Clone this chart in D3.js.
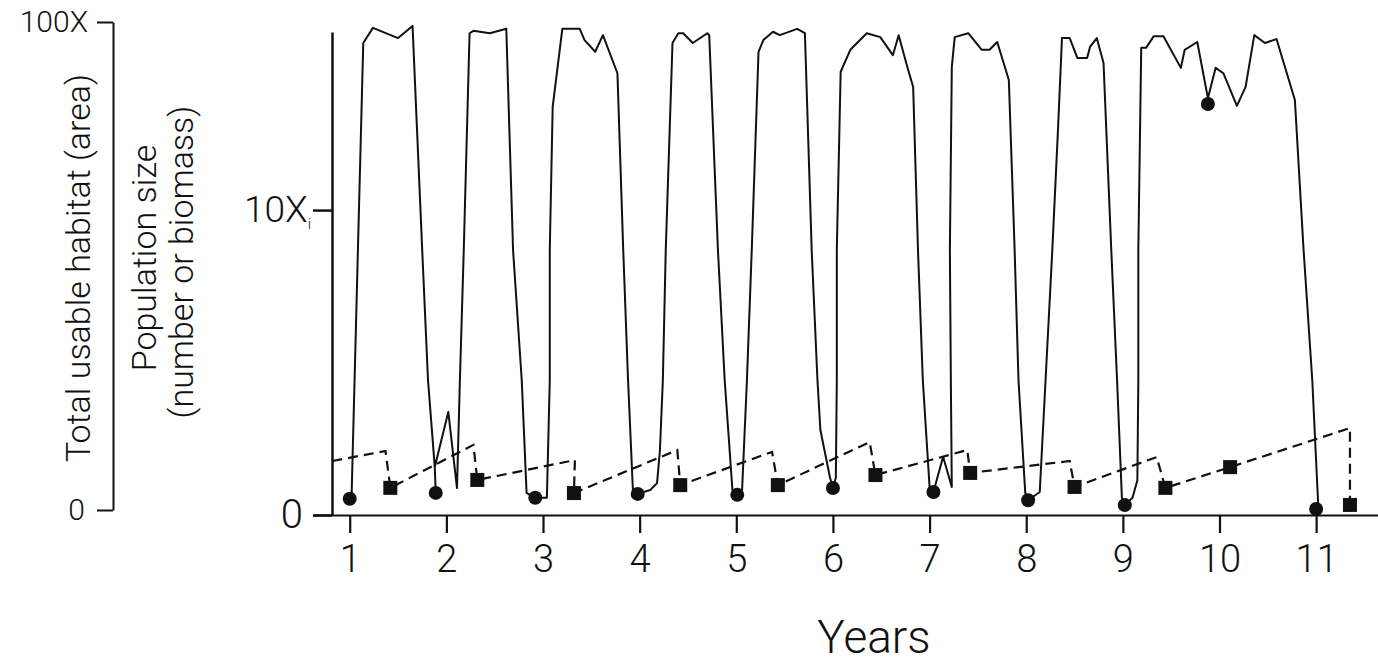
<!DOCTYPE html>
<meta charset="utf-8">
<style>
    body { margin: 0; background: #fff; }
    svg { display: block; }
    text { font-family: Roboto, "Liberation Sans", Arial, sans-serif; font-weight: 300; fill: #111; }
    .axis path, .axis line { stroke: #111; }
</style>
<body>
<svg width="1378" height="663"></svg>
</body>
<script src="https://d3js.org/d3.v7.min.js"></script>
<script>
    // solid line: usable habitat (years, % of 100X)
    const habitatYears = [1.00,1.02,1.14,1.24,1.50,1.65,1.75,1.81,1.88,1.89,
        1.88,2.02,2.11,2.14,2.18,2.24,2.28,2.45,2.62,2.69,
        2.78,2.83,2.92,3.04,3.07,3.07,3.10,3.20,3.38,3.43,
        3.54,3.62,3.77,3.83,3.88,3.93,3.98,4.11,4.18,4.21,
        4.24,4.27,4.34,4.40,4.45,4.55,4.70,4.72,4.81,4.88,
        4.96,5.01,5.06,5.11,5.16,5.23,5.28,5.38,5.45,5.63,
        5.71,5.78,5.84,5.87,5.97,6.00,6.03,6.04,6.04,6.08,
        6.18,6.35,6.49,6.62,6.68,6.77,6.83,6.88,6.93,7.00,
        7.04,7.14,7.23,7.22,7.21,7.23,7.26,7.40,7.54,7.62,
        7.70,7.82,7.88,7.92,7.99,8.02,8.14,8.20,8.27,8.33,
        8.37,8.45,8.53,8.63,8.66,8.73,8.80,8.88,8.94,8.99,
        9.02,9.10,9.15,9.16,9.16,9.19,9.24,9.32,9.42,9.60,
        9.64,9.77,9.88,9.96,10.04,10.18,10.27,10.36,10.47,10.59,
        10.78,10.87,10.96,11.02,11.00];
    const habitatValues = [2.3,3.5,95.7,98.8,96.7,99.2,53.3,26.6,8.8,3.5,
        8.8,20.1,4.5,26.6,53.3,97.7,98.2,97.7,98.6,53.3,
        26.6,3.5,2.5,2.5,26.6,53.3,82.6,98.6,98.6,96.3,
        93.9,97.3,89.5,53.3,26.6,4.1,3.3,4.1,5.5,12.3,
        26.6,53.3,95.7,97.7,97.7,95.7,97.7,97.3,53.3,26.6,
        4.1,3.1,4.1,26.6,53.3,93.9,96.3,98.0,97.3,98.6,
        97.7,53.3,26.6,16.4,6.6,4.5,6.6,26.6,53.3,89.8,
        94.3,97.7,96.9,93.2,97.3,90.8,86.7,53.3,26.6,4.7,
        3.7,10.9,4.7,26.6,53.3,90.8,96.9,97.7,94.3,94.3,
        95.9,88.1,53.3,26.6,3.5,2.0,3.7,26.6,53.3,78.5,
        96.7,96.7,92.6,92.6,94.9,96.7,91.6,53.3,26.6,2.5,
        1.0,2.5,6.1,26.6,53.3,94.7,94.7,97.1,97.1,90.6,
        94.3,95.9,84.4,90.6,89.5,82.8,86.7,97.3,95.7,96.5,
        84.0,53.3,26.6,1.6,0.2];

    // filled circles on the habitat line
    const dotYears = [1.00,1.89,2.92,3.98,5.01,6.00,7.04,8.02,9.02,9.88,11.00];
    const dotValues = [2.3,3.5,2.5,3.3,3.1,4.5,3.7,2.0,1.0,83.2,0.2];

    // dashed line: population size (units of X)
    const popYears = [0.82,1.37,1.42,2.28,2.32,3.33,3.32,4.39,4.42,5.37,5.43,
        6.38,6.44,7.39,7.42,8.45,8.50,9.35,9.44,10.11,11.35,11.35];
    const popValues = [1.77,2.10,0.89,2.30,1.15,1.80,0.72,2.13,0.98,2.07,0.98,
        2.39,1.31,2.13,1.38,1.77,0.92,1.90,0.89,1.57,2.85,0.33];

    // filled squares on the population line
    const squareYears = [1.42,2.32,3.32,4.42,5.43,6.44,7.42,8.50,9.44,10.11,11.35];
    const squareValues = [0.89,1.15,0.72,0.98,0.98,1.31,1.38,0.92,0.89,1.57,0.33];

    const xTicks = [1,2,3,4,5,6,7,8,9,10,11];
    const popTicks = [0, 10];
    const habTicks = [0, 100];

    const svg = d3.select("svg");
    svg.append("rect").attr("width", 1378).attr("height", 663).attr("fill", "#fff");

    const x = d3.scaleLinear().domain([0.62, 11.64]).range([313, 1378]);
    const yPop = d3.scaleLinear().domain([0, 15.84]).range([515, 32]);
    const yHab = d3.scaleLinear().domain([0, 100]).range([510, 22]);

    // x axis
    const gx = svg.append("g")
        .attr("class", "axis")
        .attr("transform", "translate(0,515)")
        .call(d3.axisBottom(x).tickValues(xTicks).tickSize(18).tickSizeOuter(0)
            .tickPadding(12).tickFormat(d3.format("d")));
    gx.selectAll("path, line").attr("stroke-width", 2.2);
    gx.selectAll("text").attr("font-size", 38).attr("fill", "#111");

    // population axis
    const gy = svg.append("g")
        .attr("class", "axis")
        .attr("transform", "translate(332,0)")
        .call(d3.axisLeft(yPop).tickValues(popTicks).tickSize(19).tickSizeOuter(0));
    gy.selectAll("path, line").attr("stroke-width", 2.5);
    gy.selectAll("text")
        .attr("fill", "#111")
        .attr("font-size", d => d === 0 ? 40 : 37)
        .attr("x", d => d === 0 ? -29 : -21)
        .each(function (d) {
            const t = d3.select(this);
            if (d === 0) { t.text("0"); return; }
            t.text("10X");
            t.append("tspan").attr("font-size", 15).attr("dy", "0.45em").text("i");
        });

    // habitat axis
    const gh = svg.append("g")
        .attr("class", "axis")
        .attr("transform", "translate(113,0)")
        .call(d3.axisLeft(yHab).tickValues(habTicks).tickSize(16).tickSizeOuter(0));
    gh.selectAll("path, line").attr("stroke-width", 2);
    gh.selectAll("text")
        .attr("fill", "#111")
        .attr("font-size", d => d === 0 ? 30 : 30)
        .attr("x", d => d === 0 ? -28 : -25)
        .text(d => d === 0 ? "0" : "100X");

    // axis titles
    svg.append("text")
        .attr("transform", "translate(90,268) rotate(-90)")
        .attr("text-anchor", "middle").attr("font-size", 34)
        .text("Total usable habitat (area)");
    svg.append("text")
        .attr("transform", "translate(156,258) rotate(-90)")
        .attr("text-anchor", "middle").attr("font-size", 34)
        .text("Population size");
    svg.append("text")
        .attr("transform", "translate(193,262) rotate(-90)")
        .attr("text-anchor", "middle").attr("font-size", 34)
        .text("(number or biomass)");
    svg.append("text")
        .attr("x", 874).attr("y", 653)
        .attr("text-anchor", "middle").attr("font-size", 46)
        .text("Years");

    // habitat line
    const habitat = habitatYears.map((d, i) => [d, habitatValues[i]]);
    svg.append("path")
        .datum(habitat)
        .attr("fill", "none")
        .attr("stroke", "#111")
        .attr("stroke-width", 2)
        .attr("stroke-linejoin", "round")
        .attr("d", d3.line().x(d => x(d[0])).y(d => yHab(d[1])));

    // population line
    const pop = popYears.map((d, i) => [d, popValues[i]]);
    svg.append("path")
        .datum(pop)
        .attr("fill", "none")
        .attr("stroke", "#111")
        .attr("stroke-width", 2.2)
        .attr("stroke-dasharray", "10,6")
        .attr("d", d3.line().x(d => x(d[0])).y(d => yPop(d[1])));

    svg.append("g")
        .selectAll("circle")
        .data(dotYears)
        .enter().append("circle")
        .attr("cx", d => x(d))
        .attr("cy", (d, i) => yHab(dotValues[i]))
        .attr("r", 7)
        .attr("fill", "#111");

    const sq = 14;
    svg.append("g")
        .selectAll("rect")
        .data(squareYears)
        .enter().append("rect")
        .attr("x", d => x(d) - sq / 2)
        .attr("y", (d, i) => yPop(squareValues[i]) - sq / 2)
        .attr("width", sq)
        .attr("height", sq)
        .attr("fill", "#111");
</script>
